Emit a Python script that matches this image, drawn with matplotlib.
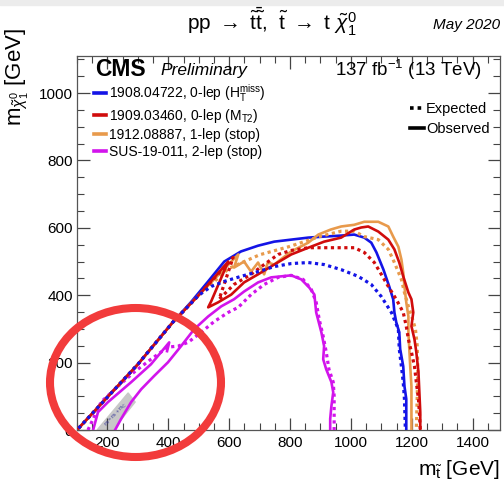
import matplotlib
matplotlib.use('Agg')
import matplotlib.pyplot as plt
from matplotlib.lines import Line2D
from matplotlib.patches import Ellipse, Rectangle

plt.rcParams['font.family'] = ['Liberation Sans', 'DejaVu Sans']
plt.rcParams['mathtext.fontset'] = 'custom'
plt.rcParams['mathtext.rm'] = 'Liberation Sans'
plt.rcParams['mathtext.it'] = 'Liberation Sans:italic'
plt.rcParams['mathtext.bf'] = 'Liberation Sans:bold'

# contours (m_stop, m_lsp) in GeV
blue_obs_x = [105, 300, 415, 475, 530, 584, 639, 695, 748, 804, 860, 912, 968, 1011, 1044, 1067, 1084,
              1107, 1126, 1139, 1143, 1149, 1159, 1162, 1172, 1176, 1182, 1182, 1182]
blue_obs_y = [5, 195, 320, 380, 440, 500, 530, 547, 559, 565, 571, 574, 577, 580, 571, 556, 527,
              476, 426, 388, 349, 320, 290, 240, 189, 130, 92, 33, 0]
blue_exp_x = [105, 300, 415, 500, 541, 584, 639, 695, 748, 804, 860, 912, 968, 1024, 1067, 1100, 1133,
              1156, 1159, 1166, 1172, 1176, 1179]
blue_exp_y = [5, 195, 320, 400, 426, 441, 456, 470, 485, 494, 497, 491, 476, 456, 432, 396, 349,
              299, 240, 189, 142, 92, 0]
red_obs_x = [105, 300, 415, 500, 597, 541, 531, 564, 607, 649, 695, 748, 804, 860, 912, 968, 1011, 1034,
             1057, 1090, 1123, 1143, 1159, 1172, 1189, 1199, 1205, 1199, 1209, 1215, 1222, 1225, 1228, 1228]
red_obs_y = [5, 195, 320, 400, 500, 382, 364, 379, 402, 438, 462, 491, 521, 541, 559, 571, 595, 601,
             604, 589, 565, 536, 497, 456, 408, 388, 349, 308, 269, 231, 172, 112, 53, 0]
red_exp_x = [105, 300, 415, 500, 613, 567, 616, 672, 715, 761, 804, 860, 912, 968, 1011, 1044, 1077, 1100,
             1123, 1149, 1172, 1182, 1189, 1199, 1209, 1215, 1222, 1225, 1228]
red_exp_y = [5, 195, 320, 400, 512, 388, 432, 462, 491, 521, 533, 541, 541, 541, 541, 527, 497, 462,
             426, 388, 349, 308, 269, 231, 189, 142, 92, 53, 0]
orange_obs_x = [105, 300, 415, 500, 630, 616, 649, 672, 695, 715, 727, 748, 804, 860, 893, 934, 968, 1011,
                1044, 1090, 1123, 1139, 1156, 1166, 1172, 1176, 1182, 1189, 1189, 1192, 1195, 1199, 1199, 1199]
orange_obs_y = [5, 195, 320, 400, 521, 482, 500, 470, 497, 462, 497, 491, 530, 556, 580, 595, 604, 609,
                618, 618, 604, 574, 544, 506, 467, 426, 379, 337, 290, 240, 189, 130, 71, 0]
orange_exp_x = [105, 300, 415, 500, 600, 700, 800, 900, 968, 1011, 1044, 1090, 1123, 1143, 1166, 1176,
                1189, 1199, 1212, 1218, 1220, 1218, 1215]
orange_exp_y = [5, 195, 320, 400, 480, 520, 545, 575, 590, 590, 574, 565, 536, 497, 447, 408,
                367, 340, 300, 250, 180, 100, 0]
mag_obs_a_x = [153, 169, 202, 278, 343, 403, 396]
mag_obs_a_y = [0, 53, 83, 142, 195, 260, 234]
mag_obs_b_x = [225, 245, 278, 311, 353, 399, 442, 485, 531, 574, 616, 649, 695, 738, 771, 804, 837, 863,
               880, 886, 903, 912, 909, 919, 936, 942, 936, 932, 932]
mag_obs_b_y = [0, 33, 83, 121, 160, 201, 249, 299, 337, 367, 388, 411, 438, 453, 456, 459, 447, 423,
               402, 349, 290, 249, 210, 180, 142, 112, 71, 33, 0]
mag_exp_x = [136, 179, 235, 288, 343, 399, 432, 465, 508, 551, 597, 630, 672, 715, 761, 804, 843, 870,
             886, 896, 909, 919, 928, 942, 945, 945, 945]
mag_exp_y = [0, 83, 130, 172, 210, 246, 249, 260, 290, 322, 349, 364, 402, 432, 453, 459, 447, 417,
             379, 328, 278, 231, 180, 142, 101, 62, 0]
band_x = [166, 268, 291, 218]
band_y = [0, 110, 83, 0]

labels = ['1908.04722, 0-lep (H$_{\\mathrm{T}}^{\\mathrm{miss}}$)',
          '1909.03460, 0-lep (M$_{\\mathrm{T2}}$)',
          '1912.08887, 1-lep (stop)',
          'SUS-19-011, 2-lep (stop)']
blue = '#1414e6'
red = '#d00c0c'
orange = '#e89a4c'
magenta = '#d214ec'

fig = plt.figure(figsize=(5.04, 4.88), dpi=100)
ax = fig.add_axes([77 / 504, 58 / 488, 423 / 504, 374 / 488])

ax.fill(band_x, band_y, color='#c8c8c8', zorder=1)
ax.text(228, 45, 'm$_{\\tilde{t}}$ = m$_t$ + m$_{\\tilde{\\chi}^0_1}$', fontsize=3.5, color='#3a3a9a',
        rotation=47, ha='center', va='center', zorder=2)

dot = (0, (1, 1.1))
lw = 1.9
ax.plot(mag_obs_a_x, mag_obs_a_y, color=magenta, lw=lw, zorder=3)
l4, = ax.plot(mag_obs_b_x, mag_obs_b_y, color=magenta, lw=lw, zorder=3)
ax.plot(mag_exp_x, mag_exp_y, color=magenta, lw=lw + 0.4, ls=dot, zorder=3)
l1, = ax.plot(blue_obs_x, blue_obs_y, color=blue, lw=lw, zorder=3.5)
l3, = ax.plot(orange_obs_x, orange_obs_y, color=orange, lw=lw, zorder=3.6)
ax.plot(orange_exp_x, orange_exp_y, color=orange, lw=lw + 0.4, ls=dot, zorder=3.7)
l2, = ax.plot(red_obs_x, red_obs_y, color=red, lw=lw, zorder=4)
ax.plot(red_exp_x, red_exp_y, color=red, lw=lw + 0.4, ls=dot, zorder=4.1)
ax.plot(blue_exp_x, blue_exp_y, color=blue, lw=lw + 0.4, ls=dot, zorder=5)

ax.set_xlim(100, 1490)
ax.set_ylim(0, 1110)
ax.set_xticks([200, 400, 600, 800, 1000, 1200, 1400])
ax.set_xticks(range(100, 1500, 50), minor=True)
ax.set_yticks([0, 200, 400, 600, 800, 1000])
ax.set_yticks(range(0, 1110, 50), minor=True)
ax.tick_params(which='both', direction='in', top=True, right=True, labelsize=11, color='#444444')
ax.tick_params(which='major', length=9, width=0.9)
ax.tick_params(which='minor', length=5, width=0.8)
ax.tick_params(axis='x', pad=4)
ax.tick_params(axis='y', pad=3)
for s in ax.spines.values():
    s.set_color('#555555')
    s.set_linewidth(0.9)

leg1 = ax.legend([l1, l2, l3, l4], labels, loc='upper left', bbox_to_anchor=(0.04, 0.93),
                 frameon=False, fontsize=10, handlelength=0.9, handletextpad=0.15,
                 labelspacing=0.22, borderpad=0, borderaxespad=0)
for h in leg1.legend_handles:
    h.set_linewidth(2.6)
ax.add_artist(leg1)
ax.legend([Line2D([], [], color='black', lw=2.6, ls=dot), Line2D([], [], color='black', lw=2.6)],
          ['Expected', 'Observed'], loc='upper right', bbox_to_anchor=(0.975, 0.878),
          frameon=False, fontsize=10.5, handlelength=0.9, handletextpad=0.15,
          labelspacing=0.45, borderpad=0, borderaxespad=0)

fig.text(0.54, 0.955, 'pp $\\rightarrow$ $\\tilde{\\mathrm{t}}\\bar{\\tilde{\\mathrm{t}}}$,  '
         '$\\tilde{\\mathrm{t}}$ $\\rightarrow$ t $\\tilde{\\chi}^0_1$',
         fontsize=15, ha='center', va='center')
fig.text(0.992, 0.949, 'May 2020', fontsize=11, style='italic', ha='right', va='center')
fig.text(0.188, 0.858, 'CMS', fontsize=16.5, weight='bold', ha='left', va='center')
fig.text(0.318, 0.855, 'Preliminary', fontsize=12.5, style='italic', ha='left', va='center')
fig.text(0.956, 0.857, '137 fb$^{-1}$ (13 TeV)', fontsize=13.5, ha='right', va='center')
fig.text(0.034, 0.842, 'm$_{\\tilde{\\chi}^0_1}$ [GeV]', fontsize=16, rotation=90, ha='center', va='center')
fig.text(0.992, 0.037, 'm$_{\\tilde{\\mathrm{t}}}$ [GeV]', fontsize=15, ha='right', va='center')

fig.add_artist(Rectangle((0, 1 - 5 / 488), 1, 5 / 488, transform=fig.transFigure,
                         color='#ececec', zorder=0))
fig.add_artist(Ellipse((135.5 / 504, 1 - 382.5 / 488), 171 / 504, 149 / 488, transform=fig.transFigure,
                       fill=False, ec='#f23b3b', lw=5.8, zorder=10))

fig.savefig('out.png', dpi=100)
